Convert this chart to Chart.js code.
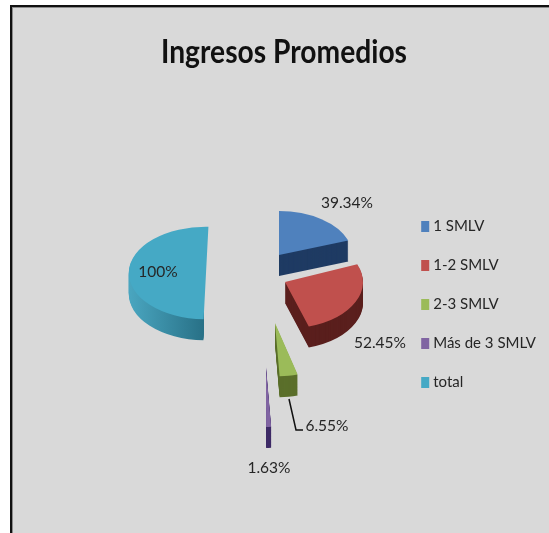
<!DOCTYPE html>
<html><head><meta charset="utf-8">
<style>
html,body{margin:0;padding:0;background:#fff;width:549px;height:533px;overflow:hidden}
#frame{position:absolute;left:10px;top:5px;right:0;bottom:0;background:#d9d9d9;border-left:2px solid #111;border-top:2px solid #111;box-shadow:inset 1px 1px 0 #8c8c8c}
canvas{position:absolute;left:0;top:0}
</style></head><body>
<div id="frame"></div>
<canvas id="c" width="549" height="533"></canvas>
<script src="https://cdn.jsdelivr.net/npm/chart.js@4/dist/chart.umd.min.js"></script>
<script>
const titleText = "Ingresos Promedios";
const categories = ["1 SMLV", "1-2 SMLV", "2-3 SMLV", "Más de 3 SMLV", "total"];
const values = [39.34, 52.45, 6.55, 1.63, 100];
const valueLabels = ["39.34%", "52.45%", "6.55%", "1.63%", "100%"];
const faceColors = ["#4f81bd", "#c0504d", "#9bbb59", "#8064a2", "#45a9c5"];
const sideColors = ["#1f3b63", "#5a1f1d", "#5b6f2b", "#3d2a66", "#2f7f98"];

// Style of the exploded 3-D look (screen pixels, not data)
const pieCentre = [257, 273], squash = 0.6, depth = 21, baseRadius = 78;
const explode = [[22,-18],[28,9],[18,50],[9,94],[-51,0]];
const radiusScale = [0.94, 1, 1.14, 1.28, 0.99];
const spinDeg = [0, -3, 0, 0, 1.8];
const labelNudge = [[68,-52],[95,61],[52,103],[3,101],[-48,-1]];
const leaderNudge = [[14,76],[21,107],[28,107]];
const textFont = "15.5px Lato";
const titleSpan = [161, 407];

let origin = [0,0];
const pie3d = {
  id: "pie3d",
  afterLayout(chart) {
    chart.titleBlock.left = titleSpan[0];
    chart.titleBlock.right = titleSpan[1];
  },
  afterDatasetsUpdate(chart) {
    const arcs = chart.getDatasetMeta(0).data;
    origin = [arcs[0].x, arcs[0].y];
    arcs.forEach((a, i) => {
      const sp = spinDeg[i] * Math.PI / 180;
      a.startAngle += sp; a.endAngle += sp;
      a.outerRadius = baseRadius * radiusScale[i];
      a.x = origin[0] + explode[i][0];
      a.y = origin[1] + explode[i][1] / squash;
    });
  },
  beforeDatasetDraw(chart) {
    const ctx = chart.ctx, arcs = chart.getDatasetMeta(0).data;
    ctx.save();
    ctx.translate(pieCentre[0], pieCentre[1]);
    ctx.scale(1, squash);
    ctx.translate(-origin[0], -origin[1]);
    arcs.forEach((a, i) => {
      let side = sideColors[i];
      ctx.save();
      if (i === 4) {
        const g = ctx.createLinearGradient(a.x - a.outerRadius, 0, a.x, 0);
        g.addColorStop(0, "#4aa6c0"); g.addColorStop(1, "#276f85");
        side = g;
        // the side wall ends where the flat front edge of this half ends
        const edgeX = a.x + Math.cos(a.startAngle) * a.outerRadius;
        ctx.beginPath();
        ctx.rect(edgeX - 400, -2000, 400, 6000);
        ctx.clip();
      }
      for (let k = depth; k >= 1; k--) {
        const ghost = Object.create(a);
        ghost.options = Object.assign({}, a.options, {backgroundColor: side, borderWidth: 0});
        ghost.y = a.y + k / squash;
        ghost.draw(ctx);
      }
      ctx.restore();
    });
  },
  afterDatasetDraw(chart) { chart.ctx.restore(); },
  afterDraw(chart) {
    const ctx = chart.ctx;
    ctx.save();
    ctx.font = textFont;
    ctx.fillStyle = "#262626";
    ctx.textAlign = "center";
    ctx.textBaseline = "middle";
    const apex = explode.map(e => [pieCentre[0] + e[0], pieCentre[1] + e[1]]);
    valueLabels.forEach((t, i) => ctx.fillText(t, apex[i][0] + labelNudge[i][0], apex[i][1] + labelNudge[i][1]));
    ctx.strokeStyle = "#111"; ctx.lineWidth = 1.5;
    ctx.beginPath();
    leaderNudge.forEach((p, j) => {
      const X = apex[2][0] + p[0], Y = apex[2][1] + p[1];
      j ? ctx.lineTo(X, Y) : ctx.moveTo(X, Y);
    });
    ctx.stroke();
    ctx.restore();
  }
};

new Chart(document.getElementById("c"), {
  type: "pie",
  data: { labels: categories, datasets: [{
    data: values, backgroundColor: faceColors, borderWidth: 0, radius: baseRadius, clip: false
  }]},
  options: {
    responsive: false, animation: false, events: [],
    layout: { padding: { top: 30, left: 0, right: 3, bottom: -46 } },
    plugins: {
      tooltip: { enabled: false },
      title: { display: true, text: titleText, color: "#111",
        font: { family: "Lato", size: 33, weight: "bold" },
        padding: { top: 3, bottom: 42 } },
      legend: { display: true, position: "right", align: "center",
        labels: { color: "#262626", font: { family: "Lato", size: 15 }, boxWidth: 1, boxHeight: 4, padding: 24,
          generateLabels: () => categories.map((text, i) => ({
            text, fillStyle: faceColors[i], strokeStyle: faceColors[i], lineWidth: 7, index: i, fontColor: "#262626"
          })) } }
    }
  },
  plugins: [pie3d]
});
</script>
</body></html>
